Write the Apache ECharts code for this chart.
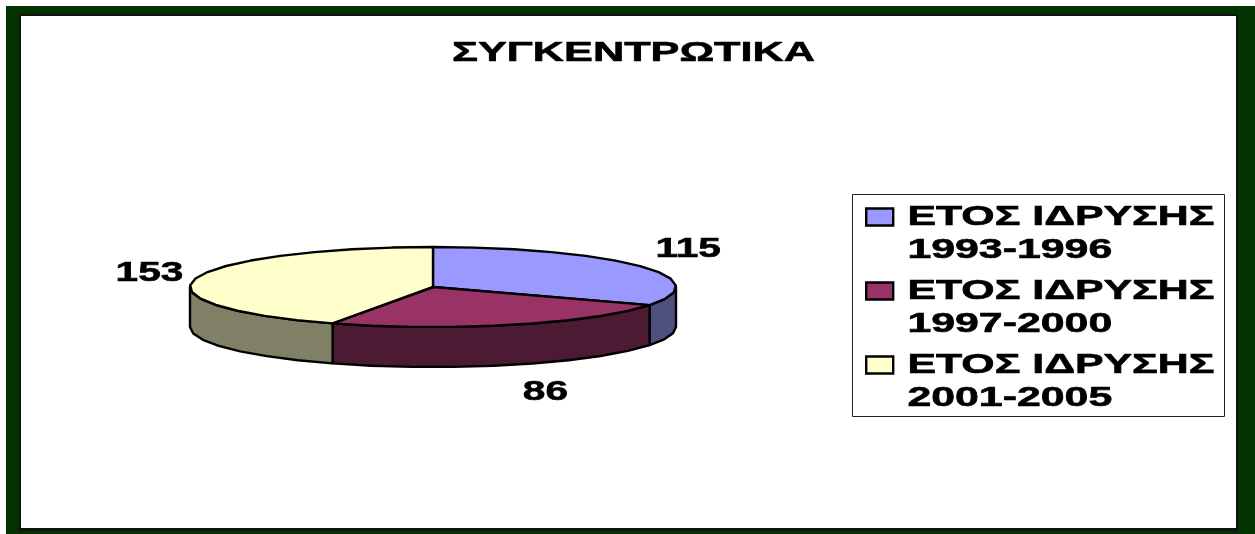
<!DOCTYPE html>
<html>
<head>
<meta charset="utf-8">
<style>html,body{margin:0;padding:0;background:#fff}#c{width:1255px;height:534px}</style>
<script src="https://cdn.jsdelivr.net/npm/echarts@6/dist/echarts.min.js"></script>
</head>
<body>
<div id="c"></div>
<script>
const chartTitle = 'ΣΥΓΚΕΝΤΡΩΤΙΚΑ';
const categories = ['ΕΤΟΣ ΙΔΡΥΣΗΣ\n1993-1996', 'ΕΤΟΣ ΙΔΡΥΣΗΣ\n1997-2000', 'ΕΤΟΣ ΙΔΡΥΣΗΣ\n2001-2005'];
const values = [115, 86, 153];
const topColors = ['#9999FF', '#993366', '#FFFFCC'];
const sideColors = ['#50507F', '#4D1A33', '#808066'];

const pie = { cx: 433, cy: 287, rx: 243, ry: 40, depth: 40, step: 10 };
const labelOffsets = [[48, -17], [32, 68], [-46, -5]];
const font = 'Liberation Sans';
const stretch = { title: 1.545, legend: 1.53, label: 1.45 };
const heavy = { textBorderColor: '#000', textBorderWidth: 0.6 };

const total = values.reduce((a, b) => a + b, 0);
function rim(deg, dy) {
  const t = deg * Math.PI / 180;
  return [pie.cx + pie.rx * Math.sin(t), pie.cy - pie.ry * Math.cos(t) + (dy || 0)];
}
function arc(a, b, dy) {
  const pts = [];
  const n = Math.max(1, Math.round((b - a) / pie.step));
  for (let i = 0; i <= n; i++) pts.push(rim(a + (b - a) * i / n, dy));
  return pts;
}
function renderSlice(params, api) {
  const i = params.seriesIndex;
  const before = values.slice(0, i).reduce((a, b) => a + b, 0);
  const a0 = before / total * 360;
  const a1 = a0 + api.value(0) / total * 360;
  const lineStyle = { stroke: '#000', lineWidth: 2.4, lineJoin: 'round' };
  const children = [];
  const s0 = Math.max(a0, 90), s1 = Math.min(a1, 270);
  if (s1 > s0) {
    const wall = arc(s0, s1, 0).concat(arc(s0, s1, pie.depth).reverse());
    children.push({ type: 'polygon', shape: { points: wall },
      style: Object.assign({ fill: sideColors[i] }, lineStyle) });
  }
  const face = [[pie.cx, pie.cy]].concat(arc(a0, a1, 0));
  children.push({ type: 'polygon', shape: { points: face },
    style: Object.assign({ fill: topColors[i] }, lineStyle) });
  const mid = rim((a0 + a1) / 2, 0);
  children.push({ type: 'text', x: mid[0] + labelOffsets[i][0], y: mid[1] + labelOffsets[i][1],
    scaleX: stretch.label,
    style: { text: String(api.value(0)), x: 0, y: 0, align: 'center', verticalAlign: 'middle',
      font: 'bold 28px "' + font + '"', fill: '#000', stroke: '#000', lineWidth: 0.6 } });
  return { type: 'group', children };
}

const chart = echarts.init(document.getElementById('c'), null, { renderer: 'canvas' });
chart.setOption({
  animation: false,
  backgroundColor: '#fff',
  title: {
    text: chartTitle, left: 452, top: 39, padding: 0,
    textStyle: Object.assign({ fontFamily: font, fontWeight: 'bold', fontSize: 28, color: '#000' }, heavy)
  },
  legend: {
    left: 865, top: 184, orient: 'vertical', padding: 0, itemGap: 8,
    itemWidth: 27, itemHeight: 17, selectedMode: false, icon: 'rect',
    data: categories.map(name => ({ name })),
    itemStyle: { borderColor: '#000', borderWidth: 2.4 },
    textStyle: Object.assign({ fontFamily: font, fontWeight: 'bold', fontSize: 28, lineHeight: 33, color: '#000', padding: [0, 0, 0, 6] }, heavy)
  },
  graphic: [
    { type: 'rect', z: -10, silent: true, shape: { x: 6, y: 6, width: 1249, height: 528 }, style: { fill: '#003300' } },
    { type: 'rect', z: -9, silent: true, shape: { x: 19, y: 14, width: 1219, height: 517 }, style: { fill: '#111' } },
    { type: 'rect', z: -8, silent: true, shape: { x: 21, y: 16, width: 1215, height: 512 }, style: { fill: '#fff' } },
    { type: 'rect', z: -7, silent: true, shape: { x: 852.5, y: 194.5, width: 372, height: 222 },
      style: { fill: '#fff', stroke: '#222', lineWidth: 1 } }
  ],
  series: categories.map((name, i) => ({
    type: 'custom', name, coordinateSystem: 'none', renderItem: renderSlice,
    itemStyle: { color: topColors[i] }, data: [[values[i]]], silent: true
  }))
});

// The reference's type is stretched sideways; ECharts' title and legend have no option for this.
const zr = chart.getZr();
zr.storage.getRoots().forEach(root => {
  if (!root.traverse) return;
  root.traverse(el => {
    if (el.type !== 'text' || !el.style) return;
    if (el.style.text === chartTitle) {
      el.originX = el.style.x || 0;
      el.scaleX = stretch.title;
      el.dirty();
    } else if (categories.includes(el.style.text)) {
      el.originX = el.style.x || 0;
      el.scaleX = stretch.legend;
      el.y = (el.y || 0) + 17;
      el.dirty();
    }
  });
});
zr.refreshImmediately();
</script>
</body>
</html>
